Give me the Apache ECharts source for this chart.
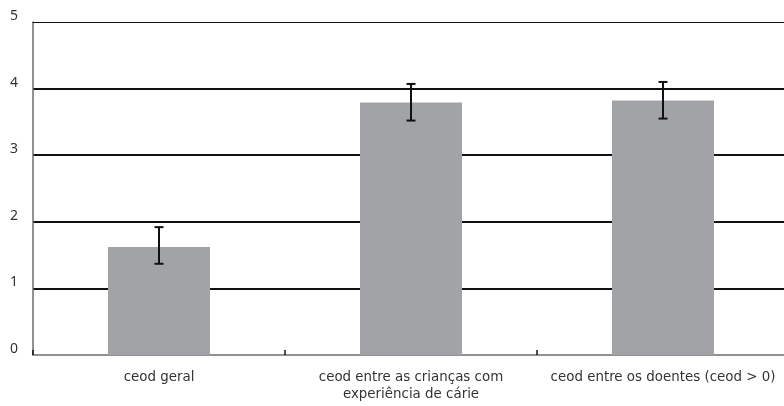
<!DOCTYPE html>
<html>
<head>
<meta charset="utf-8">
<script src="https://cdn.jsdelivr.net/npm/echarts@6/dist/echarts.min.js"></script>
<style>
  html, body { margin: 0; padding: 0; background: #fff; overflow: hidden; }
  /* plot runs a few pixels past the right edge of the window */
  #chart { width: 789px; height: 406px; }
</style>
</head>
<body>
<div id="chart"></div>
<script>
// Mean ceod with confidence interval limits
const categories = [
  'ceod geral',
  'ceod entre as crianças com\nexperiência de cárie',
  'ceod entre os doentes (ceod > 0)'
];
const meanValues = [1.62, 3.79, 3.82];
const lowerLimits = [1.37, 3.52, 3.55];
const upperLimits = [1.92, 4.07, 4.10];
const yTicks = [0, 1, 2, 3, 4, 5];

const LABEL_FONT = '"DejaVu Sans", sans-serif';
const chart = echarts.init(document.getElementById('chart'), null, { renderer: 'canvas' });

chart.setOption({
  animation: false,
  backgroundColor: '#ffffff',
  grid: { left: 33, right: 0, top: 22, bottom: 51, containLabel: false },
  xAxis: [
    {
      type: 'category',
      data: categories,
      axisLine: { show: true, lineStyle: { color: '#6d6e71', width: 1.5 } },
      axisTick: { show: true, inside: true, length: 5, lineStyle: { color: '#111', width: 1.5 } },
      axisLabel: {
        color: '#333', fontFamily: LABEL_FONT, fontSize: 13.4, lineHeight: 17,
        margin: 14.5, interval: 0
      },
      splitLine: { show: false }
    },
    {
      // thin frame line along the top of the plot
      type: 'category',
      position: 'top',
      data: categories,
      axisLine: { show: true, lineStyle: { color: '#111', width: 1.2 } },
      axisTick: { show: false },
      axisLabel: { show: false }
    }
  ],
  yAxis: {
    type: 'value',
    min: yTicks[0],
    max: yTicks[yTicks.length - 1],
    interval: 1,
    axisLine: { show: true, lineStyle: { color: '#6d6e71', width: 1.5 } },
    axisTick: { show: false },
    axisLabel: {
      color: '#333', fontFamily: '"Noto Sans", sans-serif', fontSize: 14, margin: 15,
      verticalAlign: 'bottom', lineHeight: 12
    },
    splitLine: {
      show: true, showMinLine: false, showMaxLine: false,
      lineStyle: { color: '#111', width: 2 }
    }
  },
  series: [
    {
      type: 'bar',
      data: meanValues,
      barWidth: 102,
      itemStyle: { color: '#a2a3a7' },
      z: 3
    },
    {
      type: 'custom',
      z: 4,
      data: categories.map((c, i) => [i, lowerLimits[i], upperLimits[i]]),
      renderItem: function (params, api) {
        const idx = api.value(0);
        const lo = api.coord([idx, api.value(1)]);
        const hi = api.coord([idx, api.value(2)]);
        const half = 4.5;
        const style = { stroke: '#111', lineWidth: 2 };
        return {
          type: 'group',
          children: [
            { type: 'line', shape: { x1: hi[0], y1: hi[1], x2: lo[0], y2: lo[1] }, style: style },
            { type: 'line', shape: { x1: hi[0] - half, y1: hi[1], x2: hi[0] + half, y2: hi[1] }, style: style },
            { type: 'line', shape: { x1: lo[0] - half, y1: lo[1], x2: lo[0] + half, y2: lo[1] }, style: style }
          ]
        };
      }
    }
  ]
});
</script>
</body>
</html>
